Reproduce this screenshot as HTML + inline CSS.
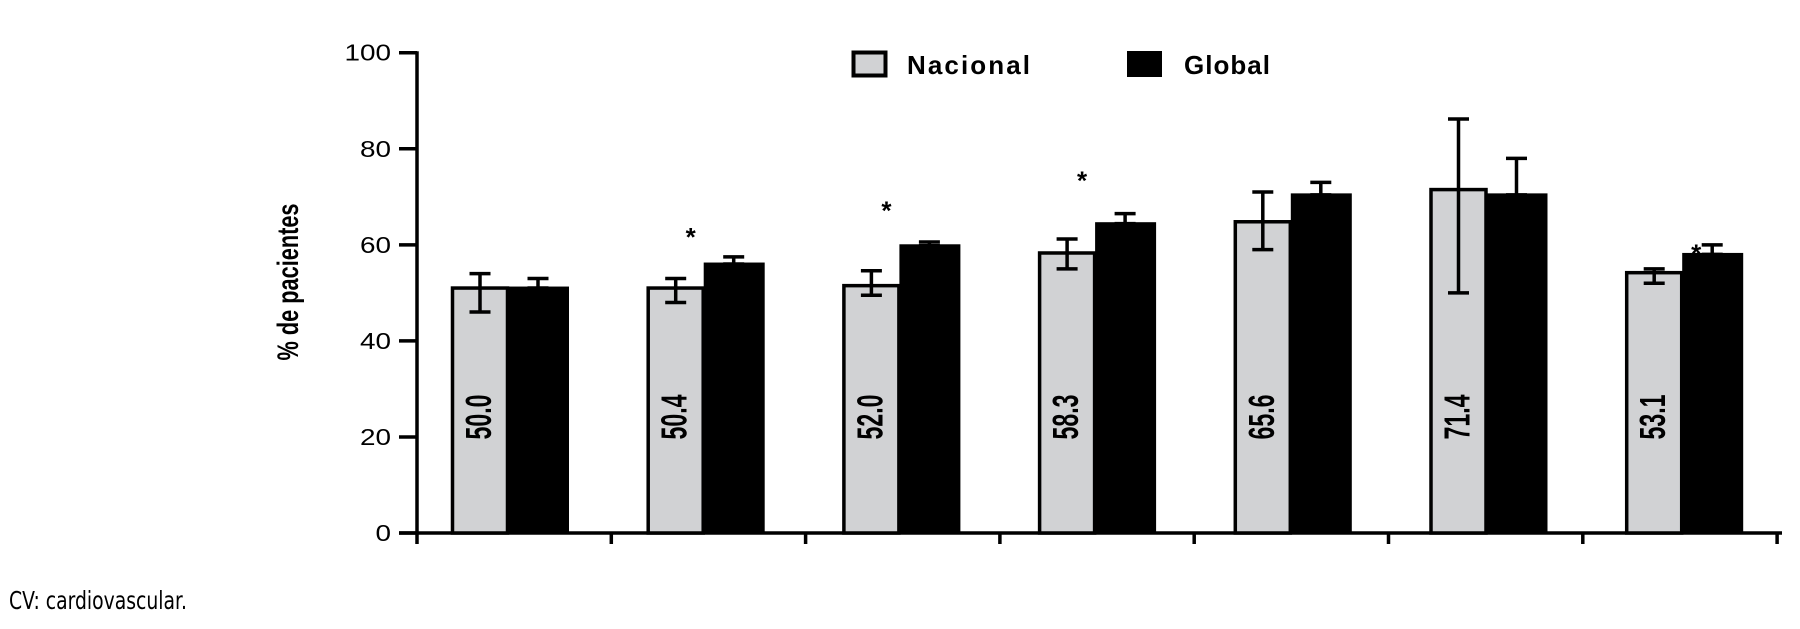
<!DOCTYPE html>
<html><head><meta charset="utf-8"><style>
body{margin:0;background:#fff;width:1800px;height:629px;overflow:hidden}
svg{display:block}
</style></head><body>
<svg id="chart" width="1800" height="629" xmlns="http://www.w3.org/2000/svg">
<g id="axes"></g>
<g id="bars"></g>
<g>
<rect x="853.5" y="52.5" width="32" height="23" fill="#d1d2d4" stroke="#000" stroke-width="4"/>
<text x="907" y="74" font-family="Liberation Sans, sans-serif" font-weight="bold" font-size="26" textLength="123">Nacional</text>
<rect x="1127" y="51" width="35" height="26" fill="#000"/>
<text x="1184" y="74" font-family="Liberation Sans, sans-serif" font-weight="bold" font-size="26" textLength="86">Global</text>
</g>
<text transform="translate(298,282) rotate(-90)" text-anchor="middle" font-family="Liberation Sans, sans-serif" font-weight="bold" font-size="30" textLength="157" lengthAdjust="spacingAndGlyphs">% de pacientes</text>
<text x="9" y="609" font-family="DejaVu Sans, sans-serif" font-size="25" textLength="178" lengthAdjust="spacingAndGlyphs">CV: cardiovascular.</text>
</svg>
<script>
const yTicks=[0,20,40,60,80,100];
const nacLabels=["50.0","50.4","52.0","58.3","65.6","71.4","53.1"];
const nacional=[51,51,51.5,58.3,64.8,71.5,54.2];
const nacLow=[46,48,49.5,55,59,50,52];
const nacHigh=[54,53,54.6,61.2,71,86.2,55];
const global=[51,56,59.8,64.4,70.4,70.4,58];
const globHigh=[53,57.5,60.6,66.5,73,78,60];
const starShown=[0,1,1,1,0,0,1];
const starVal=[0,62.5,68,74.2,0,0,59];
const starSide=[0,0,0,0,0,0,1];
const xTickPos=[0,1,2,3,4,5,6,7];

const NS="http://www.w3.org/2000/svg";
const y0=533,y100=52.7;
const Y=v=>y0-(y0-y100)*v/100;
const G=i=>451+i*195.7;
const XT=i=>417+i*194.3;
function mk(tag,attrs,parent,text){const e=document.createElementNS(NS,tag);for(const k in attrs)e.setAttribute(k,attrs[k]);if(text!==undefined)e.textContent=text;parent.appendChild(e);return e;}
const axes=document.getElementById('axes'),bars=document.getElementById('bars');
let e=mk('line',{x1:417,y1:Y(100)-1.5,x2:417,y2:y0+1.5,stroke:'#000','stroke-width':3.5},axes);


e=mk('line',{x1:399,y1:y0,x2:1782,y2:y0,stroke:'#000','stroke-width':3.5},axes);


yTicks.forEach(t=>{
  let l=mk('line',{x1:399,y1:Y(t),x2:417,y2:Y(t),stroke:'#000','stroke-width':3.5},axes);
  
  
  const s=String(t);
  let tx=mk('text',{x:391,y:Y(t)+8,'text-anchor':'end','font-family':'Liberation Sans, sans-serif','font-size':23,textLength:s.length*15.5,lengthAdjust:'spacingAndGlyphs'},axes,s);
  
  
});
xTickPos.forEach(i=>{
  let l=mk('line',{x1:XT(i),y1:y0,x2:XT(i),y2:y0+11,stroke:'#000','stroke-width':3.5},axes);
  
  
});
function errbar(x,lo,hi){
  const g=mk('g',{stroke:'#000','stroke-width':3.5},bars);
  
  
  mk('line',{x1:x,y1:Y(lo),x2:x,y2:Y(hi)},g);
  mk('line',{x1:x-10.5,y1:Y(hi),x2:x+10.5,y2:Y(hi)},g);
  if(lo!==null)mk('line',{x1:x-10.5,y1:Y(lo),x2:x+10.5,y2:Y(lo)},g);
}
nacional.forEach((v,i)=>{
  const L=G(i);
  let r=mk('rect',{x:L+1.5,y:Y(v),width:55,height:y0-Y(v),fill:'#d1d2d4',stroke:'#000','stroke-width':3.5},bars);
  
  
  r=mk('rect',{x:L+57,y:Y(global[i])-1.5,width:61,height:y0-Y(global[i])+1.5,fill:'#000'},bars);
  
  
  errbar(L+29,nacLow[i],nacHigh[i]);
  errbar(L+87,global[i],globHigh[i]);
  let t=mk('text',{transform:`translate(${L+40},417) rotate(-90)`,'text-anchor':'middle','font-family':'Liberation Sans, sans-serif','font-weight':'bold','font-size':36,textLength:45,lengthAdjust:'spacingAndGlyphs'},bars,nacLabels[i]);
  
  
  if(starShown[i]){
    let s=mk('text',{x:L+(starSide[i]?71:44),y:Y(starVal[i])+13,'text-anchor':'middle','font-family':'Liberation Sans, sans-serif','font-weight':'bold','font-size':26},bars,'*');
    
    
  }
});
</script>
</body></html>
